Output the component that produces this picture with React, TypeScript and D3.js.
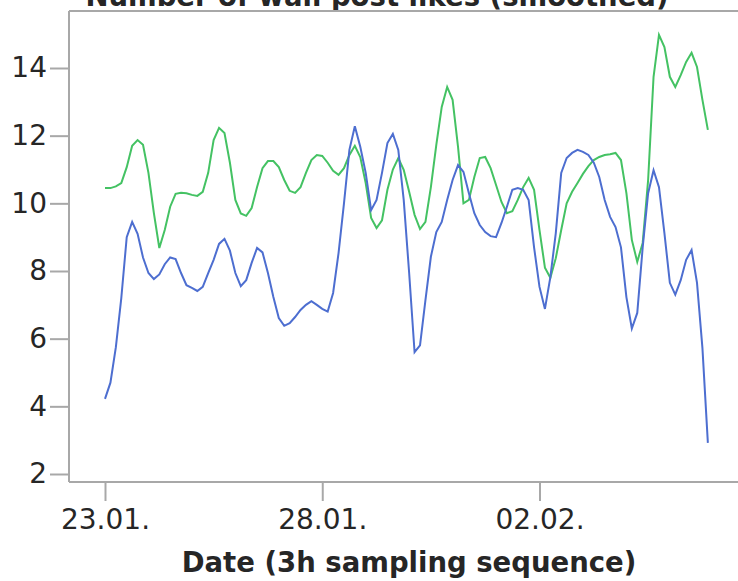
import React, { useEffect, useRef } from "react";
import * as d3 from "d3";

// 3h samples starting 23.01. 00:00
const startDate = new Date(2013, 0, 23);
const tickDates = [new Date(2013, 0, 23), new Date(2013, 0, 28), new Date(2013, 1, 2)];
const yTicks = [2, 4, 6, 8, 10, 12, 14];

const blueValues = [
  4.22, 4.7, 5.75, 7.2, 9.0, 9.45, 9.1, 8.4, 7.94, 7.76, 7.9, 8.2, 8.4, 8.35, 7.94, 7.58,
  7.5, 7.41, 7.53, 7.94, 8.33, 8.8, 8.95, 8.6, 7.94, 7.55, 7.73, 8.24, 8.68, 8.55, 7.94, 7.23,
  6.61, 6.38, 6.46, 6.64, 6.85, 7.0, 7.11, 7.0, 6.88, 6.8, 7.35, 8.53, 10.0, 11.58, 12.28, 11.67,
  10.9, 9.8, 10.1, 10.9, 11.78, 12.05, 11.58, 10.1, 7.94, 5.6, 5.8, 7.14, 8.42, 9.15, 9.45, 10.1,
  10.69, 11.13, 10.93, 10.3, 9.71, 9.36, 9.15, 9.03, 9.0, 9.42, 9.9, 10.4, 10.45, 10.4, 10.1, 8.7,
  7.53, 6.88, 7.82, 9.12, 10.9, 11.34, 11.49, 11.58, 11.52, 11.43, 11.2, 10.78, 10.1, 9.6, 9.3, 8.7,
  7.23, 6.3, 6.76, 8.7, 10.3, 10.98, 10.48, 9.12, 7.65, 7.3, 7.73, 8.33, 8.62, 7.65, 5.72, 2.92,
];

const greenValues = [
  10.45, 10.45, 10.5, 10.6, 11.07, 11.7, 11.87, 11.73, 10.9, 9.71, 8.68, 9.21, 9.9, 10.28, 10.31, 10.3,
  10.25, 10.22, 10.34, 10.9, 11.87, 12.23, 12.08, 11.2, 10.1, 9.7, 9.63, 9.86, 10.48, 11.04, 11.25, 11.25,
  11.07, 10.69, 10.37, 10.31, 10.48, 10.9, 11.28, 11.43, 11.4, 11.2, 10.96, 10.84, 11.04, 11.43, 11.7, 11.37,
  10.6, 9.57, 9.27, 9.5, 10.4, 11.0, 11.34, 10.99, 10.34, 9.66, 9.24, 9.45, 10.48, 11.73, 12.85, 13.44,
  13.06, 11.67, 10.0, 10.1, 10.78, 11.34, 11.37, 11.04, 10.54, 10.04, 9.71, 9.77, 10.1, 10.48, 10.75, 10.4,
  9.21, 8.1, 7.8, 8.38, 9.21, 10.0, 10.34, 10.6, 10.87, 11.1, 11.28, 11.37, 11.43, 11.45, 11.49, 11.28,
  10.3, 8.92, 8.27, 8.83, 10.69, 13.74, 14.98, 14.62, 13.74, 13.44, 13.79, 14.18, 14.45, 14.03, 13.06, 12.17,
];

const FONT = "'DejaVu Sans', sans-serif";
const TEXT = "#262626";
const FRAME = "#a8a8a8";

const Axis = ({ axis, transform }) => {
  const ref = useRef(null);
  useEffect(() => {
    const g = d3.select(ref.current);
    g.call(axis);
    g.select(".domain").remove();
    g.selectAll(".tick line").attr("stroke", FRAME).attr("stroke-width", 2);
    g.selectAll(".tick text")
      .attr("fill", TEXT)
      .style("font-family", FONT)
      .style("font-size", "28px");
  }, [axis]);
  return <g ref={ref} transform={transform} />;
};

export default function App() {
  const width = 738;
  const height = 581;
  const left = 69;
  const top = 11;
  const bottom = 482;

  const xScale = d3
    .scaleTime()
    .domain([tickDates[0], tickDates[2]])
    .range([105, 539.5]);
  const yScale = d3.scaleLinear().domain([2, 14]).range([474, 68]);

  const dateAt = (i) => d3.timeHour.offset(startDate, 3 * i);
  const line = d3
    .line()
    .x((d, i) => xScale(dateAt(i)))
    .y((d) => yScale(d));

  const xAxis = d3
    .axisBottom(xScale)
    .tickValues(tickDates)
    .tickFormat(d3.timeFormat("%d.%m."))
    .tickSize(19)
    .tickPadding(8);
  const yAxis = d3.axisLeft(yScale).tickValues(yTicks).tickSize(19).tickPadding(3);

  return (
    <svg
      width={width}
      height={height}
      style={{ position: "absolute", left: 0, top: 0, background: "#fff" }}
    >
      <text
        x={377}
        y={6}
        textAnchor="middle"
        fill={TEXT}
        style={{ fontFamily: FONT, fontSize: "27.5px", fontWeight: "bold" }}
      >
        Number of wall post likes (smoothed)
      </text>

      {/* frame */}
      <line x1={left} x2={width} y1={top} y2={top} stroke={FRAME} strokeWidth={2} />
      <line x1={left} x2={width} y1={bottom} y2={bottom} stroke={FRAME} strokeWidth={2} />
      <line x1={left} x2={left} y1={top} y2={bottom} stroke={FRAME} strokeWidth={2} />

      <Axis axis={yAxis} transform={`translate(${left},0)`} />
      <Axis axis={xAxis} transform={`translate(0,${bottom})`} />

      <path d={line(greenValues)} fill="none" stroke="#44c263" strokeWidth={2} />
      <path d={line(blueValues)} fill="none" stroke="#4d6ed0" strokeWidth={2} />

      <text
        x={409}
        y={572}
        textAnchor="middle"
        fill={TEXT}
        style={{ fontFamily: FONT, fontSize: "27.5px", fontWeight: "bold" }}
      >
        Date (3h sampling sequence)
      </text>
    </svg>
  );
}
